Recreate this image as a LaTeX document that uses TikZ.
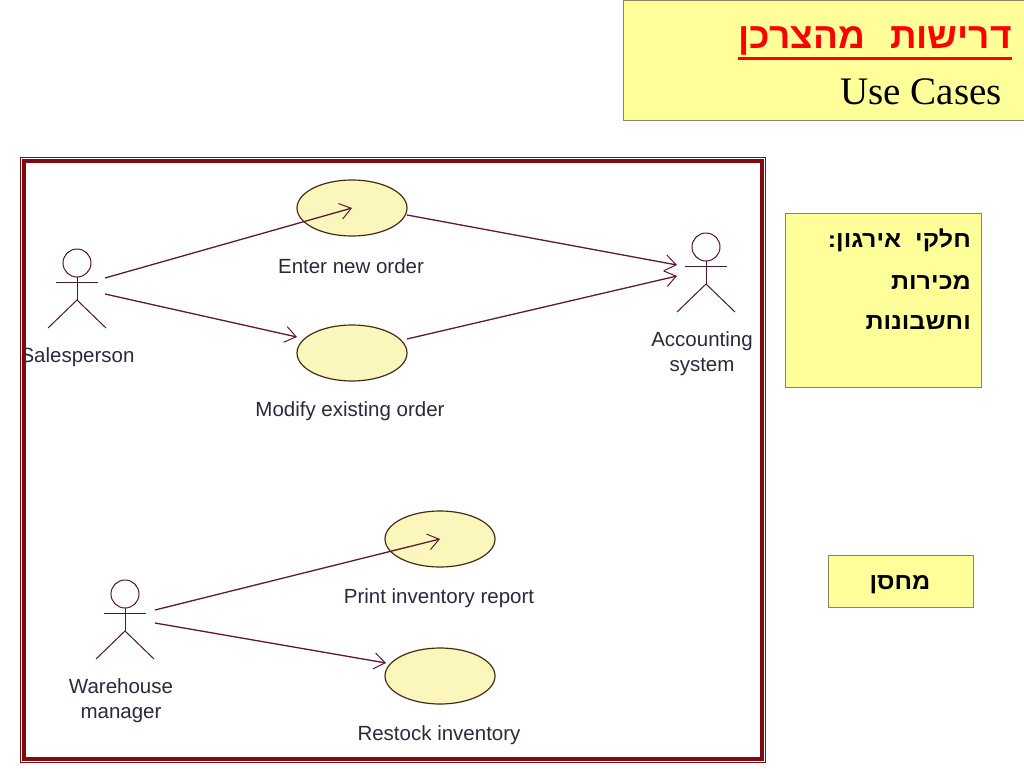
\documentclass[tikz,border=0pt]{standalone}
\usepackage{fontspec}
\setmainfont{Liberation Sans}
\newfontfamily\hebfont[Script=Hebrew,FakeStretch=1.09]{Liberation Sans}
\newfontfamily\hebtitle[Script=Hebrew,FakeStretch=1.03]{Liberation Sans}
\newfontfamily\serfont{Liberation Serif}
\TeXXeTstate=1
\usetikzlibrary{arrows.meta,shapes.geometric}
\definecolor{frameRed}{HTML}{7E0A12}
\definecolor{lineRed}{HTML}{5E1A30}
\definecolor{boxYellow}{HTML}{FFFF99}
\definecolor{boxEdge}{HTML}{8A8660}
\definecolor{caseFill}{HTML}{FBF6BC}
\definecolor{labelInk}{HTML}{2A2A3C}
\tikzset{
  x=1pt,y=-1pt,
  yellowbox/.style={fill=boxYellow,draw=boxEdge,line width=0.8pt},
  ucase/.style={ellipse,draw=black!65!brown,fill=caseFill,line width=1.2pt,minimum width=110pt,minimum height=56pt,inner sep=0pt},
  ulabel/.style={font=\fontsize{20.5}{25}\selectfont,text=labelInk,align=center,inner sep=0pt},
  heb/.style={font=\hebfont\bfseries\fontsize{23}{28}\selectfont,anchor=east,inner sep=0pt},
  assoc/.style={draw=lineRed,line width=1.3pt,-{Straight Barb[length=11pt,width=16pt,line width=1pt]}},
  actorline/.style={draw=lineRed!85!black,line width=1pt}
}
\newcommand{\stickman}[2]{%
  \draw[actorline] (#1,#2) circle[radius=14];
  \draw[actorline] (#1-21,#2+19) -- (#1+21,#2+19);
  \draw[actorline] (#1,#2+14) -- (#1,#2+37);
  \draw[actorline] (#1-29,#2+65) -- (#1,#2+37) -- (#1+29,#2+65);
}
\begin{document}
\begin{tikzpicture}
\useasboundingbox (0,0) rectangle (1024,768);
\fill[white] (0,0) rectangle (1024,768);
% title box
\node[yellowbox,minimum width=401pt,minimum height=119pt,inner sep=0pt,anchor=north west] (titlebox) at (623,0.5) {};
\node[anchor=east,inner sep=0pt,text=red,font=\hebtitle\bfseries\fontsize{36}{40}\selectfont] (titleheb) at (1012,41) {\beginR דרישות\hskip 25pt מהצרכן\endR};
\draw[red,line width=3pt] (titleheb.west |- 0,58.5) -- (titleheb.east |- 0,58.5);
\node[anchor=east,inner sep=0pt,font=\serfont\fontsize{39}{42}\selectfont] (usecases) at (1002,92) {Use Cases};
% label that the frame overlaps
\node[ulabel] (lsales) at (77.5,357) {Salesperson};
% frame
\draw[frameRed,line width=1pt] (20.5,157.5) rectangle (765.5,762.5);
\draw[frameRed,line width=3.5pt] (24,161) rectangle (762,759);
% side boxes
\node[yellowbox,minimum width=196pt,minimum height=174pt,inner sep=0pt,anchor=north west] (deptbox) at (785,213) {};
\node[heb] (dept1) at (971,240) {\beginR חלקי\hskip 14pt אירגון:\endR};
\node[heb] (dept2) at (971,282) {\beginR מכירות\endR};
\node[heb] (dept3) at (971,323) {\beginR וחשבונות\endR};
\node[yellowbox,minimum width=145pt,minimum height=52pt,inner sep=0pt,anchor=north west] (storebox) at (827.5,554.5) {};
\node[heb,anchor=center] (store) at (900,585) {\beginR מחסן\endR};
% use cases
\node[ucase] (enter) at (352,208) {};
\node[ucase] (modify) at (352,353) {};
\node[ucase] (print) at (440,539) {};
\node[ucase] (restock) at (440,676) {};
% labels
\node[ulabel] (lenter) at (351,266) {Enter new order};
\node[ulabel] (lmodify) at (350,411) {Modify existing order};
\node[ulabel] (lprint) at (439,598) {Print inventory report};
\node[ulabel] (lrestock) at (439,735) {Restock inventory};
\node[ulabel] (lacct) at (702,354) {Accounting\\system};
\node[ulabel] (lware) at (121,701) {Warehouse\\manager};
% actors
\stickman{77}{263}
\stickman{706}{247}
\stickman{125}{594}
\coordinate (s1) at (105,278);
\coordinate (s2) at (105,294);
\coordinate (w1) at (155,610);
\coordinate (w2) at (155,623);
\coordinate (a1) at (407,215);
\coordinate (a2) at (407,339);
\coordinate (acct1) at (677,265);
\coordinate (acct2) at (677,276);
\coordinate (m1) at (297,337);
\coordinate (r1) at (386,663);
% connectors
\draw[assoc] (s1) -- (enter.center);
\draw[assoc] (s2) -- (m1);
\draw[assoc] (a1) -- (acct1);
\draw[assoc] (a2) -- (acct2);
\draw[assoc] (w1) -- (print.center);
\draw[assoc] (w2) -- (r1);
\end{tikzpicture}
\end{document}
